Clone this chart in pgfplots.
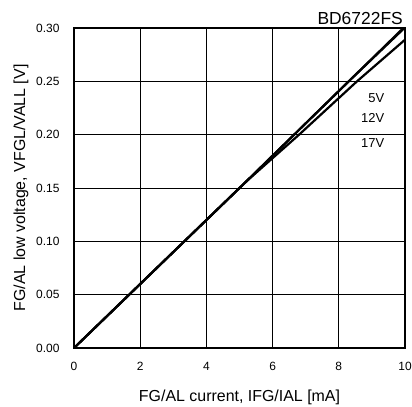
\documentclass[border=0pt]{standalone}
\usepackage{pgfplots}
\pgfplotsset{compat=1.18}
\usepackage{fontspec}
\setmainfont{Liberation Sans}
\begin{document}
\begin{tikzpicture}[x=1bp,y=1bp]
\path[use as bounding box] (0,0) rectangle (412bp,407bp);
\begin{axis}[
  at={(74bp,59bp)}, anchor=south west,
  scale only axis, width=331bp, height=320bp,
  xmin=0, xmax=10, ymin=0, ymax=0.30,
  xtick={0,2,...,10}, ytick={0,0.05,...,0.30},
  yticklabel style={xshift=-11bp, /pgf/number format/fixed, /pgf/number format/fixed zerofill, /pgf/number format/precision=2},
  /pgf/number format/assume math mode=true,
  tick label style={font=\fontsize{12}{13}\selectfont},
  xticklabel style={yshift=-11bp},
  label style={font=\fontsize{16}{18}\selectfont},
  xlabel={FG/AL current, IFG/IAL [mA]},
  ylabel={FG/AL low voltage, VFGL/VALL [V]},
  xlabel style={at={(axis description cs:0.5,0)}, anchor=base, yshift=-53bp},
  ylabel style={at={(axis description cs:0,0.5)}, anchor=base, yshift=49bp},
  grid=major, grid style={black, line width=0.8bp},
  axis line style={line width=2bp},
  tick style={black, line width=0.8bp},
  tick pos=left, tick align=inside, major tick length=4bp,
  clip mode=individual,
]
\addplot[black, line width=2.2bp] coordinates {(0,0) (5.2,0.156) (6.65,0.200) (8.3,0.250) (10,0.3015)};
\addplot[black, line width=2.2bp] coordinates {(0,0) (5.2,0.156) (6.65,0.200) (8.3,0.250) (10,0.3005)};
\addplot[black, line width=2.2bp] coordinates {(0,0) (5.2,0.156) (6.8,0.200) (8.55,0.250) (10,0.289)};
\node[font=\fontsize{13}{14}\selectfont, anchor=east, inner sep=0pt] at (axis cs:9.38,0.2344) {5V};
\node[font=\fontsize{13}{14}\selectfont, anchor=east, inner sep=0pt] at (axis cs:9.38,0.2152) {12V};
\node[font=\fontsize{13}{14}\selectfont, anchor=east, inner sep=0pt] at (axis cs:9.38,0.1917) {17V};
\node[font=\fontsize{17.5}{19}\selectfont, anchor=base east, inner sep=0pt] at ([xshift=-2bp,yshift=3bp]rel axis cs:1,1) {BD6722FS};
\end{axis}
\end{tikzpicture}
\end{document}
